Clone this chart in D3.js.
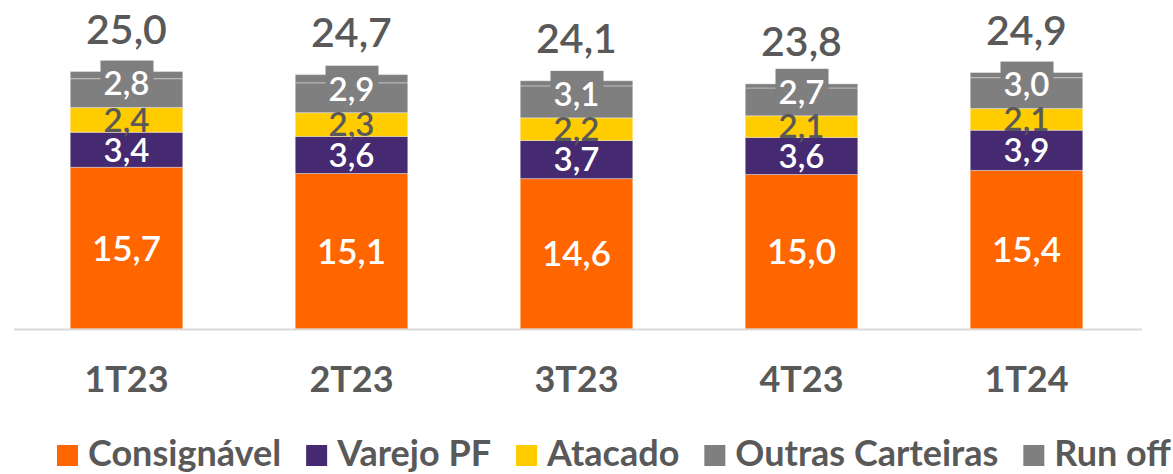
<!DOCTYPE html>
<html>
<head>
<meta charset="utf-8">
<script src="https://cdn.jsdelivr.net/npm/d3@7"></script>
<style>
  html, body { margin: 0; padding: 0; background: #fff; }
  svg { display: block; font-family: Lato, "Open Sans", sans-serif; }
</style>
</head>
<body>
<div id="chart"></div>
<script>
// Carteira por segmento (R$ bi), stacked bars with totals on top.
const quarters = ["1T23", "2T23", "3T23", "4T23", "1T24"];
const consignavel = [15.7, 15.1, 14.6, 15.0, 15.4];
const varejoPF = [3.4, 3.6, 3.7, 3.6, 3.9];
const atacado = [2.4, 2.3, 2.2, 2.1, 2.1];
const outras = [2.8, 2.9, 3.1, 2.7, 3.0];
const runOff = [0.7, 0.8, 0.5, 0.4, 0.5];
const totals = [25.0, 24.7, 24.1, 23.8, 24.9];

const seriesNames = ["Consignável", "Varejo PF", "Atacado", "Outras Carteiras", "Run off"];
const seriesColors = ["#ff6600", "#462a71", "#ffcc00", "#7f7f7f", "#7f7f7f"];
const labelColors = ["#ffffff", "#ffffff", "#595959", "#ffffff", null];

const fmt = (v) => v.toFixed(1).replace(".", ",");

const W = 1173, H = 474;
const svg = d3.select("#chart").append("svg").attr("width", W).attr("height", H);

const x = d3.scaleBand().domain(quarters).range([14, 1139])
  .paddingInner(0.5).paddingOuter(0.25);
const y = d3.scaleLinear().domain([0, 30]).range([329, 20]);

// one row per quarter, stacked
const table = quarters.map((q, i) => ({
  q,
  "Consignável": consignavel[i],
  "Varejo PF": varejoPF[i],
  "Atacado": atacado[i],
  "Outras Carteiras": outras[i],
  "Run off": runOff[i],
  total: totals[i]
}));
const stack = d3.stack().keys(seriesNames)(table);

// bars
const layers = svg.append("g").selectAll("g").data(stack).enter().append("g")
  .attr("fill", (d, i) => seriesColors[i]);
layers.selectAll("rect").data((d) => d).enter().append("rect")
  .attr("x", (d) => x(d.data.q))
  .attr("width", x.bandwidth())
  .attr("y", (d) => y(d[1]))
  .attr("height", (d) => y(d[0]) - y(d[1]))
  .attr("stroke", "rgba(255,255,255,0.35)")
  .attr("stroke-width", 1);

// baseline
svg.append("line")
  .attr("x1", 14).attr("x2", 1142)
  .attr("y1", y(0) + 0.5).attr("y2", y(0) + 0.5)
  .attr("stroke", "#d9d9d9").attr("stroke-width", 2);

// segment labels
const lab = svg.append("g").attr("text-anchor", "middle").attr("font-weight", 600);
stack.forEach((layer, si) => {
  if (!labelColors[si]) return;
  layer.forEach((d) => {
    const cx = x(d.data.q) + x.bandwidth() / 2;
    let cy = (y(d[0]) + y(d[1])) / 2;
    let size = 33;
    if (si === 0) size = 35;
    if (si === 3) {
      // Outras label sits high, on a grey box poking above the bar
      cy = y(d[0]) - 24;
      lab.append("rect")
        .attr("x", cx - 26).attr("y", cy - 23)
        .attr("width", 53).attr("height", 44)
        .attr("fill", seriesColors[3]);
    }
    lab.append("text")
      .attr("x", cx).attr("y", cy + size * 0.36)
      .attr("font-size", size)
      .attr("fill", labelColors[si])
      .text(fmt(d[1] - d[0]));
  });
});

// totals
svg.append("g").attr("text-anchor", "middle").selectAll("text").data(table).enter()
  .append("text")
  .attr("x", (d) => x(d.q) + x.bandwidth() / 2)
  .attr("y", (d) => y(d.total) - 28)
  .attr("font-size", 41).attr("font-weight", 600)
  .attr("fill", "#595959")
  .text((d) => fmt(d.total));

// category axis
svg.append("g").attr("text-anchor", "middle").selectAll("text").data(quarters).enter()
  .append("text")
  .attr("x", (d) => x(d) + x.bandwidth() / 2)
  .attr("y", 392)
  .attr("font-size", 36).attr("font-weight", 700)
  .attr("fill", "#595959")
  .text((d) => d);

// legend
const legend = svg.append("g");
let lx = 57;
seriesNames.forEach((name, i) => {
  legend.append("rect")
    .attr("x", lx).attr("y", 445).attr("width", 21).attr("height", 21)
    .attr("fill", seriesColors[i]);
  const t = legend.append("text")
    .attr("x", lx + 31).attr("y", 466)
    .attr("font-size", 36).attr("font-weight", 700)
    .attr("fill", "#595959")
    .text(name);
  lx += 31 + t.node().getComputedTextLength() + 25;
});
</script>
</body>
</html>
